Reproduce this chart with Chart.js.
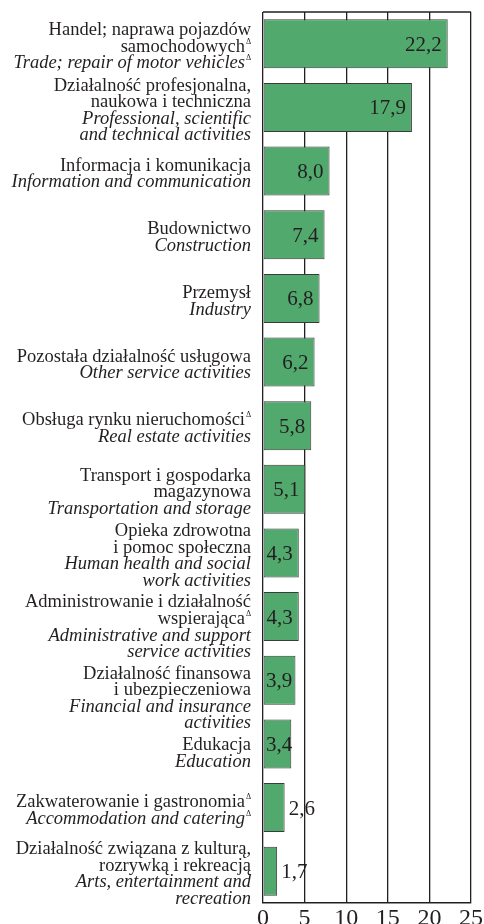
<!DOCTYPE html>
<html>
<head>
<meta charset="utf-8">
<script src="https://cdn.jsdelivr.net/npm/chart.js@4/dist/chart.umd.min.js"></script>
<style>
  html, body { margin: 0; padding: 0; background: #fff; }
  #wrap { width: 484px; height: 924px; }
</style>
</head>
<body>
<div id="wrap"><canvas id="sections-chart" width="484" height="924"></canvas></div>
<script>
// Polish names (upright) and English names (italic), one line per entry; a trailing Δ is drawn as superscript
const labelsPl = [
  ["Handel; naprawa pojazdów", "samochodowychΔ"],
  ["Działalność profesjonalna,", "naukowa i techniczna"],
  ["Informacja i komunikacja"],
  ["Budownictwo"],
  ["Przemysł"],
  ["Pozostała działalność usługowa"],
  ["Obsługa rynku nieruchomościΔ"],
  ["Transport i gospodarka", "magazynowa"],
  ["Opieka zdrowotna", "i pomoc społeczna"],
  ["Administrowanie i działalność", "wspierającaΔ"],
  ["Działalność finansowa", "i ubezpieczeniowa"],
  ["Edukacja"],
  ["Zakwaterowanie i gastronomiaΔ"],
  ["Działalność związana z kulturą,", "rozrywką i rekreacją"],
];
const labelsEn = [
  ["Trade; repair of motor vehiclesΔ"],
  ["Professional, scientific", "and technical activities"],
  ["Information and communication"],
  ["Construction"],
  ["Industry"],
  ["Other service activities"],
  ["Real estate activities"],
  ["Transportation and storage"],
  ["Human health and social", "work activities"],
  ["Administrative and support", "service activities"],
  ["Financial and insurance", "activities"],
  ["Education"],
  ["Accommodation and cateringΔ"],
  ["Arts, entertainment and", "recreation"],
];
const values = [22.2, 17.9, 8.0, 7.4, 6.8, 6.2, 5.8, 5.1, 4.3, 4.3, 3.9, 3.4, 2.6, 1.7];

const INK = "#231f20";
const SERIF = "'Liberation Serif', 'Times New Roman', serif";
const LINE_H = 16.6;
const BLOCK_GAP = 21.5; // min distance from last line of one label to first line of the next

function fmt(v) {
  return v.toFixed(1).replace(".", ",");
}

function drawLine(ctx, text, italic, x, y) {
  ctx.font = (italic ? "italic " : "") + "18.5px " + SERIF;
  ctx.textAlign = "right";
  if (text.endsWith("Δ")) {
    ctx.fillText(text.slice(0, -1), x - 6, y);
    ctx.font = "8px " + SERIF;
    ctx.textAlign = "left";
    ctx.fillText("Δ", x - 5, y - 8);
  } else {
    ctx.fillText(text, x, y);
  }
}

const sideLabels = {
  id: "sideLabels",
  beforeDatasetsDraw(chart) {
    const { ctx, chartArea } = chart;
    ctx.save();
    ctx.strokeStyle = INK;
    ctx.lineWidth = 1.3;
    ctx.beginPath();
    ctx.moveTo(chartArea.left, chartArea.top);
    ctx.lineTo(chartArea.right, chartArea.top);
    ctx.stroke();
    ctx.restore();
  },
  afterDatasetsDraw(chart) {
    const { ctx, chartArea } = chart;
    const yScale = chart.scales.y;
    const meta = chart.getDatasetMeta(0);
    ctx.save();
    ctx.fillStyle = INK;
    ctx.textBaseline = "alphabetic";

    let prevLast = -Infinity;
    labelsPl.forEach((pl, i) => {
      const lines = pl.map((t) => [t, false]).concat(labelsEn[i].map((t) => [t, true]));
      const cy = yScale.getPixelForValue(i);
      const x = chartArea.left - 12;
      let y0 = cy - ((lines.length - 1) / 2) * LINE_H + 8;
      // push the block down if it would crowd the one above
      y0 = Math.max(y0, prevLast + BLOCK_GAP);
      lines.forEach(([t, italic], k) => drawLine(ctx, t, italic, x, y0 + k * LINE_H));
      prevLast = y0 + (lines.length - 1) * LINE_H;

      // value label on the bar
      const bar = meta.data[i];
      const txt = fmt(values[i]);
      ctx.font = "21px " + SERIF;
      const w = ctx.measureText(txt).width;
      ctx.textAlign = "left";
      let lx;
      if (values[i] < 3) {
        lx = bar.x + 4;
      } else {
        lx = Math.max(bar.x - 6 - w, chartArea.left + 3);
      }
      ctx.fillText(txt, lx, bar.y + 7);
    });
    ctx.restore();
  },
};

function createChart(ctx) {
  const options = {
    indexAxis: "y",
    responsive: false,
    animation: false,
    layout: {
      padding: { left: 263, right: 8, top: 12, bottom: 0 },
    },
    scales: {
      x: {
        min: 0,
        max: 25,
        afterFit: (scale) => {
          scale.height = 21;
        },
        ticks: {
          stepSize: 5,
          padding: 1,
          color: INK,
          font: { family: SERIF, size: 24 },
        },
        grid: {
          color: INK,
          lineWidth: 1.3,
          drawTicks: false,
        },
        border: {
          display: true,
          color: INK,
          width: 1.6,
        },
      },
      y: {
        display: false,
      },
    },
    plugins: {
      legend: { display: false },
      tooltip: { enabled: false },
    },
  };

  return new Chart(ctx, {
    type: "bar",
    data: {
      labels: labelsPl.map((l) => l.join(" ")),
      datasets: [
        {
          data: values,
          backgroundColor: "#52a96d",
          borderColor: "#3a3a3a",
          borderWidth: 1,
          borderSkipped: false,
          categoryPercentage: 1,
          barPercentage: 0.77,
        },
      ],
    },
    options: options,
    plugins: [sideLabels],
  });
}

createChart(document.getElementById("sections-chart").getContext("2d"));
</script>
</body>
</html>
